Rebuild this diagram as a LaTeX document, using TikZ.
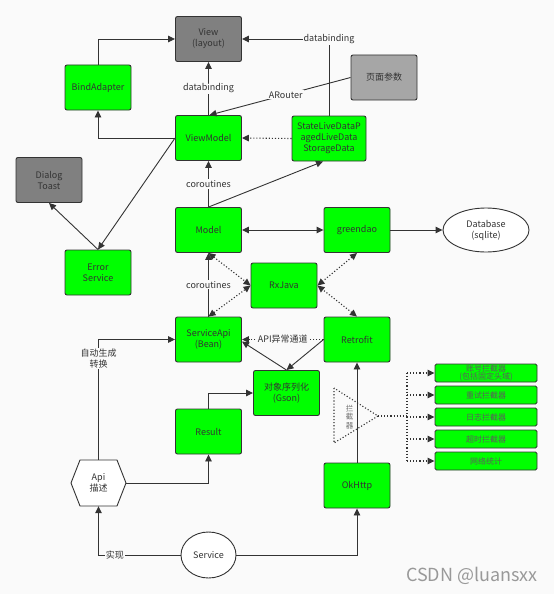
\documentclass[tikz,border=0pt]{standalone}
\usepackage{fontspec}
\setmainfont{Noto Sans CJK SC}
\usetikzlibrary{arrows.meta,shapes.geometric,calc}
\definecolor{bgc}{HTML}{FAFAFA}
\definecolor{lnc}{HTML}{333333}
\definecolor{txc}{HTML}{333333}
\definecolor{gbox}{HTML}{00FF00}
\definecolor{dgray}{HTML}{808080}
\definecolor{lgray}{HTML}{A6A6A6}
\tikzset{
  box/.style={draw=lnc, fill=gbox, rounded corners=2pt, minimum width=66pt, minimum height=45pt,
    inner sep=1pt, align=center, font=\fontsize{9}{11}\selectfont, text=txc, line width=0.9pt},
  ibox/.style={draw=lnc, fill=gbox, rounded corners=1.5pt, minimum width=102pt, minimum height=18pt,
    inner sep=0pt, align=center, font=\fontsize{8}{8.6}\selectfont, text=txc!80, line width=0.9pt},
  lbl/.style={fill=bgc, inner sep=1pt, font=\fontsize{9}{11}\selectfont, text=txc, align=center},
  arr/.style={-{Triangle[length=7pt,width=6.5pt]}, line width=0.9pt, draw=lnc},
  arrb/.style={{Triangle[length=7pt,width=6.5pt]}-{Triangle[length=7pt,width=6.5pt]}, line width=0.9pt, draw=lnc},
  darr/.style={-{Triangle[length=7pt,width=6.5pt]}, line width=1.1pt, draw=lnc, dash pattern=on 1.1pt off 2pt},
  ddarr/.style={{Triangle[length=7pt,width=6.5pt]}-{Triangle[length=7pt,width=6.5pt]}, line width=1.1pt, draw=lnc, dash pattern=on 1.1pt off 2pt},
  dline/.style={line width=1.1pt, draw=lnc, dash pattern=on 1.1pt off 2pt},
}
\begin{document}
\begin{tikzpicture}[x=1pt,y=-1pt]
\fill[bgc] (0,0) rectangle (554,594);
% nodes
\node[box, fill=dgray] (view) at (208.5,39) {View\\(layout)};
\node[box] (bind) at (98,87.5) {BindAdapter};
\node[box] (vm) at (208.5,138) {ViewModel};
\node[box, minimum width=74pt] (sld) at (329,138.5) {StateLiveDataP\\agedLiveData\\StorageData};
\node[box, fill=lgray] (page) at (384,77.5) {页面参数};
\node[box, fill=dgray] (dialog) at (49,180) {Dialog\\Toast};
\node[box] (model) at (208.5,230) {Model};
\node[box] (gd) at (357,230) {greendao};
\node[ellipse, draw=lnc, fill=white, line width=0.9pt, minimum width=86pt, minimum height=44pt, inner sep=0pt,
  align=center, font=\fontsize{9}{11}\selectfont, text=txc] (db) at (486,230) {Database\\(sqlite)};
\node[box] (err) at (98,272.5) {Error\\Service};
\node[box] (rx) at (284,285.5) {RxJava};
\node[box] (sapi) at (208.5,339.5) {ServiceApi\\(Bean)};
\node[box] (retro) at (357,339.5) {Retrofit};
\node[box] (gson) at (286.5,393) {对象序列化\\(Gson)};
\node[box] (result) at (208.5,431.5) {Result};
\fill[white, draw=lnc, line width=0.9pt] (71,483) -- (80,460) -- (117,460) -- (126,483) -- (117,506) -- (80,506) -- cycle;
\node[minimum width=55pt, minimum height=46pt, inner sep=0pt, align=center,
  font=\fontsize{9}{11}\selectfont, text=txc] (api) at (98.5,483) {Api\\描述};
\node[ellipse, draw=lnc, fill=white, line width=0.9pt, minimum width=55pt, minimum height=46pt, inner sep=0pt,
  font=\fontsize{9}{11}\selectfont, text=txc] (svc) at (208.5,555) {Service};
\node[box] (ok) at (357,485.5) {OkHttp};
% interceptor triangle
\draw[dline] (334,388) -- (334,443) -- (378,416) -- cycle;
\coordinate (apex) at (378,416);
\node[font=\fontsize{7.5}{8.5}\selectfont, text=txc!70, align=center, inner sep=0pt] (tlab) at (349.5,417) {拦\\截\\器};
\node[ibox] (i1) at (486,373) {账号拦截器\\(包括固定头域)};
\node[ibox] (i2) at (486,395) {重试拦截器};
\node[ibox] (i3) at (486,417) {日志拦截器};
\node[ibox] (i4) at (486,439) {超时拦截器};
\node[ibox] (i5) at (486,461) {网络统计};
\coordinate (trunk) at (407,416);
\draw[dline] (apex) -- (trunk);
\draw[dline] (trunk |- i1.west) -- (trunk |- i5.west);
\foreach \i in {i1,i2,i3,i4,i5} { \draw[darr] (trunk |- \i.west) -- (\i.west); }
% connectors
\draw[arr] (bind.north) |- (view.west);
\draw[arr] (vm) -- node[lbl]{databinding} (view);
\draw[arr] (vm.west) -| (bind.south);
\draw[arr] (sld.north) |- node[lbl]{databinding} (view.east);
\draw[arr] (page.west) -- node[lbl, pos=0.46]{ARouter} ($(vm.north)+(1,0)$);
\draw[darr] (sld.west) -- (vm.east);
\draw[arr] (model) -- node[lbl]{coroutines} (vm);
\draw[arr] (model.north) -- ($(sld.south)+(-6,0)$);
\draw[arr] (vm.west) -- (err.north);
\draw[arr] (err.north) -- (dialog.south);
\draw[arrb] (model) -- (gd);
\draw[arr] (gd) -- (db);
\draw[ddarr] (model.south) -- (rx.west);
\draw[ddarr] (sapi.north) -- (rx.west);
\draw[ddarr] (gd.south) -- (rx.east);
\draw[ddarr] (retro.north) -- (rx.east);
\draw[arr] (sapi) -- node[lbl]{coroutines} (model);
\draw[darr] (retro.west) -- node[lbl]{API异常通道} (sapi.east);
\draw[arr] (retro.west) -- (gson.north);
\draw[arr] (gson.north) -- ($(sapi.east)+(0,2)$);
\draw[arr] (result.north) |- (gson.west);
\draw[arr] (api.east) -| (result.south);
\draw[arr] (api.north) |- node[lbl, pos=0.42]{自动生成\\转换} (sapi.west);
\draw[arr] (svc.west) -| node[lbl, pos=0.4]{实现} (api.south);
\draw[arr] (svc.east) -| (ok.south);
\draw[arr] (ok.north) -- (retro.south);
% watermark
\node[anchor=east, font=\fontsize{18}{20}\selectfont, text=black!40, inner sep=0pt] (wm) at (538,576) {CSDN @luansxx};
\end{tikzpicture}
\end{document}
